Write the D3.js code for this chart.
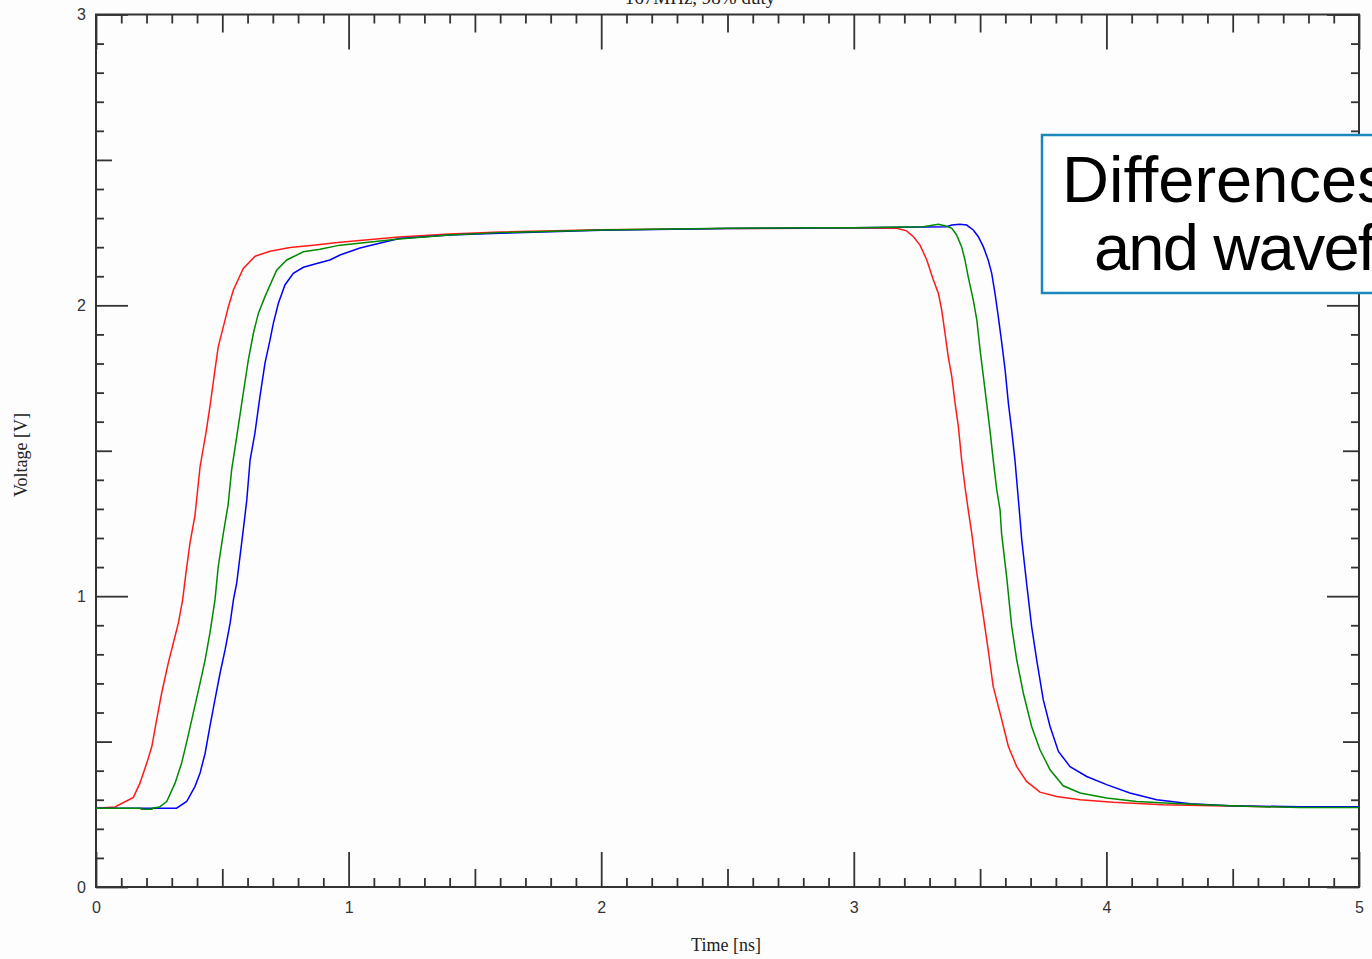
<!DOCTYPE html>
<meta charset="utf-8">
<style>
  body { margin: 0; background: #fdfdfd; }
  svg { display: block; }
</style>
<script src="https://d3js.org/d3.v7.min.js"></script>
<div id="chart"></div>
<script>
// waveform samples [time ns, voltage V]
var redTrace = [
  [0, 0.271], [0.075, 0.275], [0.148, 0.308], [0.174, 0.357], [0.201, 0.426], [0.221, 0.483],
  [0.240, 0.575], [0.260, 0.667], [0.286, 0.770], [0.306, 0.838], [0.326, 0.907], [0.343, 0.987],
  [0.356, 1.079], [0.372, 1.182], [0.392, 1.279], [0.412, 1.445], [0.435, 1.560], [0.451, 1.652],
  [0.471, 1.778], [0.484, 1.858], [0.504, 1.926], [0.524, 1.995], [0.544, 2.053], [0.583, 2.127],
  [0.630, 2.169], [0.689, 2.186], [0.768, 2.199], [0.860, 2.207], [0.966, 2.217], [1.2, 2.235],
  [1.4, 2.245], [1.6, 2.252], [2.0, 2.260], [2.5, 2.264], [3.0, 2.266], [3.170, 2.265],
  [3.209, 2.256], [3.236, 2.236], [3.262, 2.207], [3.289, 2.156], [3.315, 2.087], [3.335, 2.041],
  [3.348, 1.984], [3.361, 1.904], [3.374, 1.823], [3.388, 1.755], [3.401, 1.663], [3.414, 1.583],
  [3.427, 1.468], [3.440, 1.377], [3.453, 1.297], [3.467, 1.216], [3.487, 1.079], [3.513, 0.930],
  [3.532, 0.815], [3.552, 0.689], [3.579, 0.598], [3.612, 0.483], [3.645, 0.414], [3.684, 0.363],
  [3.737, 0.326], [3.803, 0.311], [3.896, 0.300], [4.027, 0.291], [4.225, 0.283], [4.422, 0.279],
  [4.687, 0.276], [5.0, 0.275]
];
var greenTrace = [
  [0, 0.271], [0.178, 0.271], [0.179, 0.267], [0.222, 0.267], [0.223, 0.271], [0.251, 0.275],
  [0.280, 0.294], [0.313, 0.357], [0.339, 0.426], [0.361, 0.506], [0.385, 0.598], [0.412, 0.701],
  [0.432, 0.781], [0.451, 0.873], [0.471, 0.987], [0.484, 1.102], [0.504, 1.216], [0.523, 1.314],
  [0.537, 1.434], [0.557, 1.548], [0.583, 1.698], [0.603, 1.812], [0.623, 1.904], [0.643, 1.973],
  [0.669, 2.030], [0.715, 2.121], [0.755, 2.156], [0.821, 2.184], [0.887, 2.193], [0.966, 2.207],
  [1.2, 2.228], [1.4, 2.242], [1.6, 2.250], [2.0, 2.259], [2.5, 2.265], [3.0, 2.267],
  [3.275, 2.270], [3.335, 2.279], [3.368, 2.272], [3.388, 2.265], [3.407, 2.242], [3.427, 2.201],
  [3.440, 2.156], [3.453, 2.098], [3.473, 2.018], [3.487, 1.950], [3.500, 1.846], [3.513, 1.755],
  [3.526, 1.663], [3.539, 1.571], [3.552, 1.468], [3.566, 1.365], [3.579, 1.297], [3.585, 1.216],
  [3.605, 1.067], [3.625, 0.896], [3.645, 0.781], [3.671, 0.667], [3.704, 0.552], [3.737, 0.472],
  [3.777, 0.403], [3.829, 0.348], [3.896, 0.323], [4.001, 0.306], [4.120, 0.294], [4.291, 0.286],
  [4.489, 0.279], [4.766, 0.273], [5.0, 0.273]
];
var blueTrace = [
  [0, 0.271], [0.319, 0.271], [0.359, 0.294], [0.392, 0.346], [0.412, 0.392], [0.432, 0.460],
  [0.451, 0.552], [0.471, 0.644], [0.491, 0.735], [0.511, 0.815], [0.531, 0.907], [0.544, 0.987],
  [0.557, 1.045], [0.570, 1.136], [0.583, 1.228], [0.597, 1.331], [0.610, 1.468], [0.629, 1.560],
  [0.649, 1.686], [0.669, 1.801], [0.689, 1.881], [0.702, 1.938], [0.722, 2.007], [0.748, 2.070],
  [0.781, 2.110], [0.821, 2.131], [0.874, 2.144], [0.926, 2.156], [0.966, 2.173], [1.045, 2.197],
  [1.2, 2.230], [1.4, 2.242], [1.6, 2.248], [2.0, 2.258], [2.5, 2.264], [3.0, 2.267],
  [3.368, 2.270], [3.388, 2.276], [3.420, 2.279], [3.447, 2.276], [3.473, 2.259], [3.493, 2.236],
  [3.513, 2.201], [3.532, 2.156], [3.546, 2.110], [3.559, 2.041], [3.572, 1.961], [3.586, 1.869],
  [3.599, 1.778], [3.612, 1.663], [3.625, 1.571], [3.638, 1.468], [3.647, 1.377], [3.655, 1.297],
  [3.665, 1.193], [3.684, 1.045], [3.704, 0.896], [3.724, 0.781], [3.750, 0.644], [3.777, 0.552],
  [3.810, 0.466], [3.856, 0.414], [3.922, 0.380], [4.001, 0.352], [4.093, 0.323], [4.199, 0.300],
  [4.332, 0.286], [4.489, 0.279], [4.766, 0.276], [5.0, 0.276]
];

var series = [
  {name: "red", color: "#ff1a1a", values: redTrace},
  {name: "blue", color: "#0000ff", values: blueTrace},
  {name: "green", color: "#008a00", values: greenTrace}
];

var xMajor = [0, 1, 2, 3, 4, 5];
var yMajor = [0, 1, 2, 3];
var chartTitle = "167MHz, 98% duty";
var xTitle = "Time [ns]";
var yTitle = "Voltage [V]";
var noteLines = ["Differences in", "and waveforms"];

var W = 1372, H = 959;
var plotLeft = 96, plotRight = 1359, plotTop = 14.5, plotBottom = 887;

var svg = d3.select("#chart").append("svg")
  .attr("width", W)
  .attr("height", H);

var x = d3.scaleLinear().domain([0, 5]).range([plotLeft, plotRight]);
var y = d3.scaleLinear().domain([0, 3]).range([plotBottom, plotTop]);

// tick sets: minor every 0.1, medium every 0.5, major every 1
var xMinor = d3.range(0, 51).map(d => d / 10).filter(d => Math.round(d * 10) % 5 !== 0);
var xMid = [0.5, 1.5, 2.5, 3.5, 4.5];
var yMinor = d3.range(0, 31).map(d => d / 10).filter(d => Math.round(d * 10) % 5 !== 0);
var yMid = [0.5, 1.5, 2.5];

function tickLayer(axis, tx, ty) {
  var g = svg.append("g")
    .attr("transform", "translate(" + tx + "," + ty + ")")
    .call(axis);
  g.select(".domain").remove();
  g.selectAll(".tick line").attr("stroke", "#333").attr("stroke-width", 1.8);
  return g;
}

var sizes = [[xMinor, yMinor, 9, 8], [xMid, yMid, 18, 16], [xMajor, yMajor, 35, 32]];
sizes.forEach(function (s, i) {
  var isMajor = i === 2;
  var b = tickLayer(d3.axisBottom(x).tickValues(s[0]).tickSize(-s[2]).tickSizeOuter(0)
    .tickPadding(15).tickFormat(isMajor ? d3.format("d") : ""), 0, plotBottom);
  tickLayer(d3.axisTop(x).tickValues(s[0]).tickSize(-s[2]).tickSizeOuter(0).tickFormat(""), 0, plotTop);
  var l = tickLayer(d3.axisLeft(y).tickValues(s[1]).tickSize(-s[3]).tickSizeOuter(0)
    .tickPadding(10).tickFormat(isMajor ? d3.format("d") : ""), plotLeft, 0);
  tickLayer(d3.axisRight(y).tickValues(s[1]).tickSize(-s[3]).tickSizeOuter(0).tickFormat(""), plotRight, 0);
  [b, l].forEach(function (g) {
    g.selectAll("text").style("font-family", "'Liberation Sans', Arial, sans-serif")
      .style("font-size", "16px").attr("fill", "#333");
  });
});

// frame
svg.append("rect")
  .attr("x", plotLeft).attr("y", plotTop)
  .attr("width", plotRight - plotLeft).attr("height", plotBottom - plotTop)
  .attr("fill", "none")
  .attr("stroke", "#333")
  .attr("stroke-width", 2);

// traces
var line = d3.line().x(d => x(d[0])).y(d => y(d[1]));
svg.selectAll(".trace")
  .data(series)
  .enter()
  .append("path")
    .attr("class", "trace")
    .attr("d", d => line(d.values))
    .attr("fill", "none")
    .attr("stroke", d => d.color)
    .attr("stroke-width", 1.5);

// titles
svg.append("text")
  .attr("x", 700).attr("y", 4)
  .attr("text-anchor", "middle")
  .style("font-family", "'Liberation Serif', 'Times New Roman', serif")
  .style("font-size", "19px")
  .attr("fill", "#222")
  .text(chartTitle);

svg.append("text")
  .attr("x", 726).attr("y", 951)
  .attr("text-anchor", "middle")
  .style("font-family", "'Liberation Serif', 'Times New Roman', serif")
  .style("font-size", "18px")
  .attr("fill", "#222")
  .text(xTitle);

svg.append("text")
  .attr("transform", "translate(27,455)rotate(-90)")
  .attr("text-anchor", "middle")
  .style("font-family", "'Liberation Serif', 'Times New Roman', serif")
  .style("font-size", "18px")
  .attr("fill", "#222")
  .text(yTitle);

// callout box, runs off the right edge
svg.append("rect")
  .attr("x", 1042).attr("y", 135)
  .attr("width", 400).attr("height", 158)
  .attr("fill", "#ffffff")
  .attr("stroke", "#1a87bd")
  .attr("stroke-width", 2.5);

svg.selectAll(".note")
  .data(noteLines)
  .enter()
  .append("text")
    .attr("class", "note")
    .attr("x", (d, i) => i === 0 ? 1062 : 1094)
    .attr("y", (d, i) => 202 + i * 68)
    .style("font-family", "'Liberation Sans', Arial, sans-serif")
    .style("font-size", "65px")
    .style("letter-spacing", (d, i) => i === 0 ? "0px" : "-1.8px")
    .attr("fill", "#000")
    .text(d => d);
</script>
